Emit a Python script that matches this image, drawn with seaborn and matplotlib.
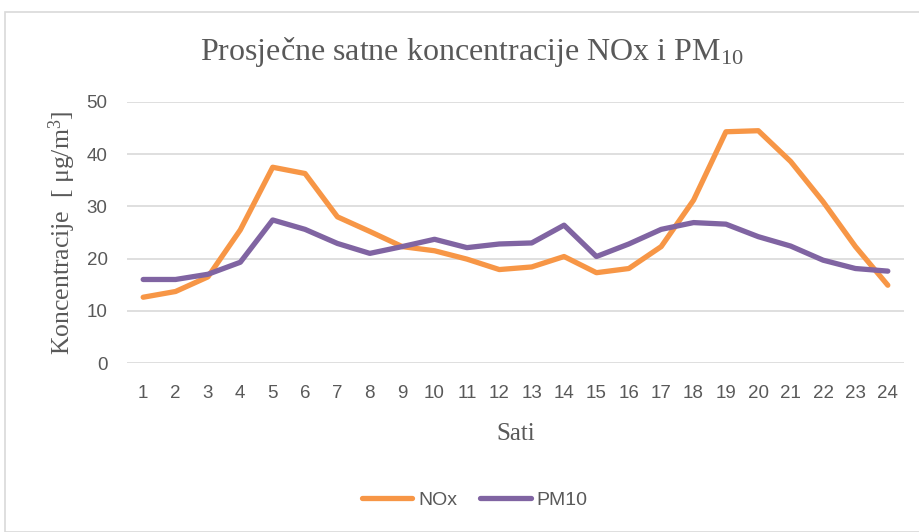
import pandas as pd
import numpy as np
import matplotlib
matplotlib.use('Agg')
import matplotlib.pyplot as plt
from matplotlib.patches import Rectangle
import seaborn as sns

# %% Data
hours = list(range(1, 25))
nox = [12.6, 13.7, 16.5, 25.5, 37.5, 36.3, 28.0, 25.2, 22.3, 21.5, 19.9, 17.9,
       18.4, 20.4, 17.3, 18.1, 22.3, 31.2, 44.3, 44.5, 38.6, 30.9, 22.3, 14.9]
pm10 = [16.0, 16.0, 17.0, 19.3, 27.4, 25.6, 22.9, 21.0, 22.3, 23.7, 22.1, 22.8,
        23.0, 26.4, 20.4, 22.8, 25.6, 26.9, 26.6, 24.2, 22.4, 19.7, 18.1, 17.6]
series_names = ['NOx', 'PM10']
y_ticks = [0, 10, 20, 30, 40, 50]

df = pd.DataFrame({'Sati': hours * 2,
                   'value': nox + pm10,
                   'series': [series_names[0]] * 24 + [series_names[1]] * 24})

# %% Style
sns.set_theme(style='white')
plt.rcParams['font.family'] = ['Liberation Sans', 'DejaVu Sans']
plt.rcParams['mathtext.fontset'] = 'custom'
plt.rcParams['mathtext.rm'] = 'Liberation Serif'
TXT = '#595959'
GRID = '#d9d9d9'
palette = {'NOx': '#f79646', 'PM10': '#8064a2'}

fig = plt.figure(figsize=(9.2, 5.32), dpi=100)
fig.patch.set_facecolor('white')
fig.patches.append(Rectangle((5 / 920, 0), 1.2, 1 - 12 / 532, transform=fig.transFigure,
                             fill=False, edgecolor=GRID, linewidth=1.2))

ax = fig.add_axes([127 / 920, 1 - 363 / 532, 777 / 920, 261 / 532])
sns.lineplot(data=df, x='Sati', y='value', hue='series', palette=palette,
             linewidth=3.8, ax=ax, legend=False, solid_capstyle='round')

ax.set_xlim(0.5, 24.5)
ax.set_ylim(0, 50)
ax.set_xticks(hours)
ax.set_yticks(y_ticks)
ax.yaxis.grid(True, color=GRID, linewidth=1.2)
ax.set_axisbelow(True)
for s in ax.spines.values():
    s.set_visible(False)
ax.tick_params(axis='both', length=0, labelsize=13.5, colors=TXT)
ax.tick_params(axis='x', pad=16)
ax.tick_params(axis='y', pad=14)

ax.set_xlabel('Sati', family='Liberation Serif', fontsize=18, color=TXT, labelpad=15)
ax.set_ylabel(r'Koncentracije  [ $\mathregular{\mu g/m^3}$]', family='Liberation Serif',
              fontsize=18.5, color=TXT, labelpad=6)

fig.text(0.513, 1 - 52 / 532, r'Prosječne satne koncentracije NOx i PM$\mathregular{_{10}}$',
         ha='center', va='center', family='Liberation Serif', fontsize=23, color=TXT)

handles = [plt.Line2D([], [], color=palette[n], linewidth=3.8, solid_capstyle='round')
           for n in series_names]
fig.legend(handles, series_names, loc='center', bbox_to_anchor=(0.516, 1 - 500 / 532),
           ncol=2, frameon=False, fontsize=14, labelcolor=TXT, handlelength=2.6,
           handletextpad=0.3, columnspacing=1.2)

fig.savefig('out.png', dpi=100, facecolor='white')
